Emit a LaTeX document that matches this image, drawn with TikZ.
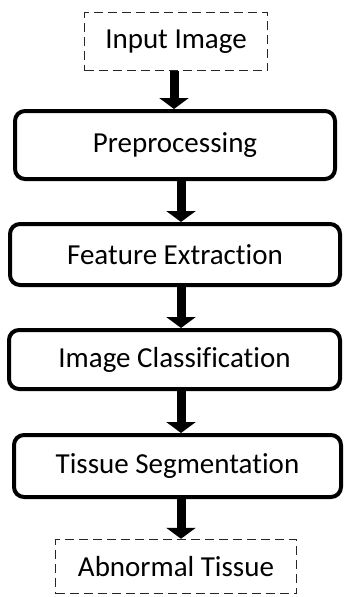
\documentclass[tikz,border=0pt]{standalone}
\usepackage{fontspec}
\setmainfont[Ligatures=CommonOff]{Carlito}
\usetikzlibrary{arrows.meta}

\begin{document}
\begin{tikzpicture}[x=1pt, y=-1pt,
		stepbox/.style={rectangle, rounded corners=10pt, draw=black, line width=4pt, fill=white, font=\fontsize{29}{34}\selectfont},
		endbox/.style={rectangle, draw=black!85, line width=1.4pt, dash pattern=on 9pt off 5pt, font=\fontsize{29}{34}\selectfont},
		flow/.style={-{Triangle[width=29pt,length=11pt]}, line width=9pt}]
		\useasboundingbox (0,0) rectangle (345,597);
		
		% Input and output
		\node[endbox, minimum width=183pt, minimum height=58pt] (in) at (176, 41.5) {Input Image};
		\node[endbox, minimum width=241pt, minimum height=54pt] (out) at (176, 566.5) {Abnormal Tissue};
		% Steps
		\node[stepbox, minimum width=320pt, minimum height=68pt] (pre) at (175, 145) {Preprocessing};
		\node[stepbox, minimum width=330pt, minimum height=61pt] (feat) at (175, 254.5) {Feature Extraction};
		\node[stepbox, minimum width=331pt, minimum height=59pt] (cls) at (174.5, 359.5) {Image Classification};
		\node[stepbox, minimum width=327pt, minimum height=62pt] (seg) at (177.5, 466) {Tissue Segmentation};
		% Connect
		\draw[flow] ([xshift=-2pt]in.south) -- ([xshift=-2pt]in.south |- pre.north);
		\draw[flow] ([xshift=6pt]pre.south) -- ([xshift=6pt]pre.south |- feat.north);
		\draw[flow] ([xshift=6pt]feat.south) -- ([xshift=6pt]feat.south |- cls.north);
		\draw[flow] ([xshift=6.5pt]cls.south) -- ([xshift=6.5pt]cls.south |- seg.north);
		\draw[flow] ([xshift=3.5pt]seg.south) -- ([xshift=3.5pt]seg.south |- out.north);
		
\end{tikzpicture}
\end{document}
